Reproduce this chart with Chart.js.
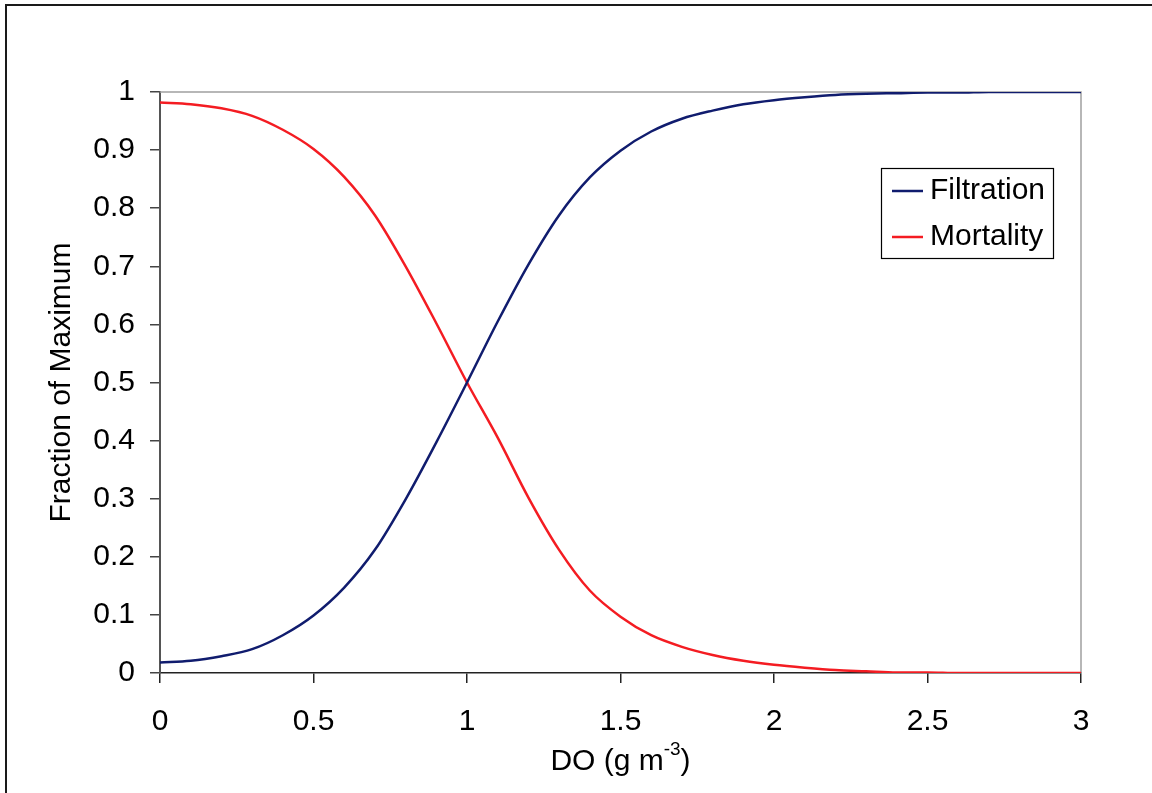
<!DOCTYPE html>
<html><head><meta charset="utf-8">
<script src="https://cdn.jsdelivr.net/npm/chart.js@4.4.1/dist/chart.umd.min.js"></script>
<style>html,body{margin:0;padding:0;background:#fff;overflow:hidden}#wrap{position:relative;width:1152px;height:793px}</style>
</head><body><div id="wrap"><canvas id="c" width="1152" height="793"></canvas></div>
<script>
// ---- data ----
const doValues = [0,0.1,0.2,0.3,0.4,0.5,0.6,0.7,0.8,0.9,1.0,1.1,1.2,1.3,1.4,1.5,1.6,1.7,1.8,1.9,2.0,2.1,2.2,2.3,2.4,2.5,2.6,2.7,2.8,2.9,3.0];
const filtration = [0.018,0.021,0.029,0.041,0.065,0.099,0.147,0.212,0.299,0.397,0.500,0.605,0.703,0.788,0.853,0.899,0.932,0.954,0.968,0.979,0.986,0.991,0.995,0.997,0.998,0.999,0.999,1.000,1.000,1.000,1.000];
const mortality  = [0.982,0.979,0.972,0.959,0.935,0.902,0.854,0.788,0.700,0.602,0.500,0.405,0.302,0.212,0.142,0.097,0.065,0.045,0.031,0.021,0.014,0.009,0.005,0.003,0.001,0.001,0.000,0.000,0.000,0.000,0.000];
const seriesNames = ['Filtration','Mortality'];
const seriesColors = ['#101c6e','#f41c22'];
const xTickValues = [0,0.5,1,1.5,2,2.5,3];
const yTickValues = [0,0.1,0.2,0.3,0.4,0.5,0.6,0.7,0.8,0.9,1];
const xTitleMain = 'DO (g m', xTitleSup = '-3', xTitleEnd = ')';
const yTitle = 'Fraction of Maximum';

const FONT = '"Liberation Sans", Arial, sans-serif';

const decor = {
  id: 'decor',
  beforeDatasetsDraw(chart) {
    const {ctx, chartArea: a} = chart;
    ctx.save();
    ctx.strokeStyle = '#a0a0a0';
    ctx.lineWidth = 1.5;
    ctx.beginPath();
    ctx.moveTo(a.left, a.top); ctx.lineTo(a.right, a.top); ctx.lineTo(a.right, a.bottom);
    ctx.stroke();
    ctx.restore();
  },
  afterDraw(chart) {
    const {ctx, chartArea: a} = chart;
    ctx.save();
    // outer frame
    ctx.strokeStyle = '#1a1a1a';
    ctx.lineWidth = 2;
    ctx.beginPath();
    ctx.moveTo(6, 793); ctx.lineTo(6, 5); ctx.lineTo(1152, 5);
    ctx.stroke();
    // y title
    ctx.fillStyle = '#000';
    ctx.font = '30px ' + FONT;
    ctx.save();
    ctx.translate(70, (a.top + a.bottom) / 2);
    ctx.rotate(-Math.PI / 2);
    ctx.textAlign = 'center';
    ctx.textBaseline = 'alphabetic';
    ctx.fillText(yTitle, 0, 0);
    ctx.restore();
    // x title with superscript
    ctx.textBaseline = 'alphabetic';
    ctx.textAlign = 'left';
    ctx.font = '30px ' + FONT;
    const w1 = ctx.measureText(xTitleMain).width;
    const w3 = ctx.measureText(xTitleEnd).width;
    ctx.font = '19px ' + FONT;
    const w2 = ctx.measureText(xTitleSup).width;
    const total = w1 + w2 + w3;
    let x0 = (a.left + a.right) / 2 - total / 2;
    const by = 770;
    ctx.font = '30px ' + FONT;
    ctx.fillText(xTitleMain, x0, by);
    ctx.font = '19px ' + FONT;
    ctx.fillText(xTitleSup, x0 + w1, by - 15);
    ctx.font = '30px ' + FONT;
    ctx.fillText(xTitleEnd, x0 + w1 + w2, by);
    // legend
    ctx.fillStyle = '#fff';
    ctx.fillRect(881, 168, 173, 91);
    ctx.strokeStyle = '#000';
    ctx.lineWidth = 1.2;
    ctx.strokeRect(881.5, 168.5, 172, 90);
    const rows = [191, 237];
    chart.data.datasets.forEach((ds, i) => {
      ctx.strokeStyle = ds.borderColor;
      ctx.lineWidth = 2.5;
      ctx.beginPath();
      ctx.moveTo(892, rows[i]); ctx.lineTo(923, rows[i]);
      ctx.stroke();
      ctx.fillStyle = '#000';
      ctx.font = '30px ' + FONT;
      ctx.textBaseline = 'middle';
      ctx.textAlign = 'left';
      ctx.fillText(ds.label, 930, rows[i]);
    });
    ctx.restore();
  }
};

const fmt = v => String(Math.round(v * 10) / 10);

new Chart(document.getElementById('c'), {
  type: 'line',
  data: {
    datasets: [
      { label: seriesNames[0], data: doValues.map((x, i) => ({x, y: filtration[i]})), borderColor: seriesColors[0], backgroundColor: seriesColors[0], borderWidth: 2.5, pointRadius: 0, cubicInterpolationMode: 'monotone', clip: 0 },
      { label: seriesNames[1], data: doValues.map((x, i) => ({x, y: mortality[i]})), borderColor: seriesColors[1], backgroundColor: seriesColors[1], borderWidth: 2.5, pointRadius: 0, cubicInterpolationMode: 'monotone', clip: 0 }
    ]
  },
  options: {
    responsive: false,
    animation: false,
    devicePixelRatio: 1,
    layout: { padding: { top: 92, right: 71, left: 0, bottom: 0 } },
    plugins: { legend: { display: false }, tooltip: { enabled: false }, title: { display: false } },
    scales: {
      x: {
        type: 'linear', min: 0, max: 3,
        afterBuildTicks: s => { s.ticks = xTickValues.map(v => ({value: v})); },
        afterFit: s => { s.height = 120; },
        ticks: { font: { family: FONT, size: 30 }, color: '#000', padding: 21, maxRotation: 0, autoSkip: false, callback: fmt },
        grid: { display: true, drawOnChartArea: false, drawTicks: true, tickLength: 10, color: '#222', lineWidth: 1.5 },
        border: { display: true, color: '#222', width: 1.5 }
      },
      y: {
        type: 'linear', min: 0, max: 1,
        afterBuildTicks: s => { s.ticks = yTickValues.map(v => ({value: v})); },
        afterFit: s => { s.width = 160; },
        ticks: { font: { family: FONT, size: 30 }, color: '#000', padding: 15, autoSkip: false, callback: fmt },
        grid: { display: true, drawOnChartArea: false, drawTicks: true, tickLength: 10, color: '#444', lineWidth: 1.5 },
        border: { display: true, color: '#555', width: 2 }
      }
    }
  },
  plugins: [decor]
});
</script>
</body></html>
